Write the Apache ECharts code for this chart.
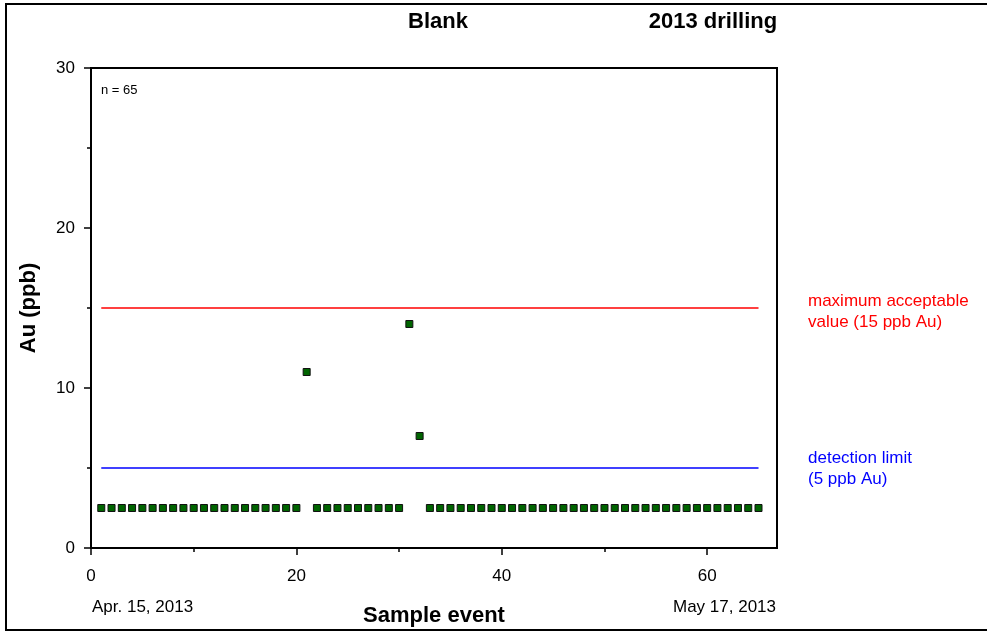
<!DOCTYPE html>
<html><head><meta charset="utf-8">
<script src="https://cdn.jsdelivr.net/npm/echarts@6/dist/echarts.min.js"></script>
<style>html,body{margin:0;padding:0;background:#fff}#c{width:987px;height:633px}</style>
</head><body><div id="c"></div>
<script>
const sampleEvent = [1,2,3,4,5,6,7,8,9,10,11,12,13,14,15,16,17,18,19,20,21,22,23,24,25,26,27,28,29,30,31,32,33,34,35,36,37,38,39,40,41,42,43,44,45,46,47,48,49,50,51,52,53,54,55,56,57,58,59,60,61,62,63,64,65];
const auPpb = [2.5,2.5,2.5,2.5,2.5,2.5,2.5,2.5,2.5,2.5,2.5,2.5,2.5,2.5,2.5,2.5,2.5,2.5,2.5,2.5,
  11,2.5,2.5,2.5,2.5,2.5,2.5,2.5,2.5,2.5,14,7,
  2.5,2.5,2.5,2.5,2.5,2.5,2.5,2.5,2.5,2.5,2.5,2.5,2.5,2.5,2.5,2.5,2.5,2.5,2.5,2.5,2.5,2.5,2.5,2.5,2.5,2.5,2.5,2.5,2.5,2.5,2.5,2.5,2.5];
const xMajorTicks = [0,20,40,60];
const xMinorTicks = [10,30,50];
const yMajorTicks = [0,10,20,30];
const yMinorTicks = [5,15,25];
const limitRange = [1,65];
const maxAcceptable = 15;
const detectionLimit = 5;

const FONT = '"Liberation Sans", Arial, sans-serif';
const chart = echarts.init(document.getElementById('c'));
const pts = sampleEvent.map((x,i)=>[x, auPpb[i]]);
const xMin = 0, xMax = 66.8, yMin = 0, yMax = 30;

chart.setOption({
  animation:false,
  backgroundColor:'#fff',
  grid:{left:91, top:68, right:210, bottom:85, show:true, borderColor:'#000', borderWidth:2,
        backgroundColor:'transparent', containLabel:false, outerBoundsMode:'none'},
  xAxis:[{
    type:'value', min:xMin, max:xMax, position:'bottom',
    name:'Sample event', nameLocation:'middle', nameGap:57, nameMoveOverlap:false,
    nameTextStyle:{fontFamily:FONT, fontSize:22, fontWeight:'bold', color:'#000'},
    axisLine:{show:true, lineStyle:{color:'#000', width:2}},
    axisTick:{show:true, customValues:xMajorTicks, length:7, lineStyle:{color:'#000', width:1.5}},
    axisLabel:{customValues:xMajorTicks, margin:20, fontFamily:FONT, fontSize:17, color:'#000'},
    splitLine:{show:false}
  },{
    type:'value', min:xMin, max:xMax, position:'bottom',
    axisLine:{show:false},
    axisTick:{show:true, customValues:xMinorTicks, length:4, lineStyle:{color:'#000', width:1.5}},
    axisLabel:{show:false}, splitLine:{show:false}
  }],
  yAxis:[{
    type:'value', min:yMin, max:yMax, position:'left',
    name:'Au (ppb)', nameLocation:'middle', nameGap:51, nameRotate:90, nameMoveOverlap:false,
    nameTextStyle:{fontFamily:FONT, fontSize:22, fontWeight:'bold', color:'#000'},
    axisLine:{show:true, lineStyle:{color:'#000', width:2}},
    axisTick:{show:true, customValues:yMajorTicks, length:7, lineStyle:{color:'#000', width:1.5}},
    axisLabel:{customValues:yMajorTicks, margin:16, fontFamily:FONT, fontSize:17, color:'#000'},
    splitLine:{show:false}
  },{
    type:'value', min:yMin, max:yMax, position:'left',
    axisLine:{show:false},
    axisTick:{show:true, customValues:yMinorTicks, length:4, lineStyle:{color:'#000', width:1.5}},
    axisLabel:{show:false}, splitLine:{show:false}
  }],
  series:[
    {type:'line', data:limitRange.map(x=>[x,maxAcceptable]), symbol:'none', silent:true,
     lineStyle:{color:'#ff0000', width:1.5}, z:1},
    {type:'line', data:limitRange.map(x=>[x,detectionLimit]), symbol:'none', silent:true,
     lineStyle:{color:'#0000ff', width:1.5}, z:1},
    {type:'scatter', data:pts, symbol:'rect', symbolSize:[7,7],
     itemStyle:{color:'#006400', borderColor:'#111', borderWidth:1, opacity:1}, z:3}
  ],
  graphic:[
    {type:'rect', shape:{x:6, y:4, width:1000, height:626}, style:{fill:'none', stroke:'#000', lineWidth:2}, silent:true},
    {type:'text', x:438, y:22, style:{text:'Blank', fontFamily:FONT, fontSize:22, fontWeight:'bold', fill:'#000', align:'center', verticalAlign:'middle'}},
    {type:'text', x:713, y:22, style:{text:'2013 drilling', fontFamily:FONT, fontSize:22, fontWeight:'bold', fill:'#000', align:'center', verticalAlign:'middle'}},
    {type:'text', x:101, y:90, style:{text:'n = 65', fontFamily:FONT, fontSize:13, fill:'#000', align:'left', verticalAlign:'middle'}},
    {type:'text', x:92, y:607, style:{text:'Apr. 15, 2013', fontFamily:FONT, fontSize:17, fill:'#000', align:'left', verticalAlign:'middle'}},
    {type:'text', x:776, y:607, style:{text:'May 17, 2013', fontFamily:FONT, fontSize:17, fill:'#000', align:'right', verticalAlign:'middle'}},
    {type:'text', x:808, y:301, style:{text:'maximum acceptable', fontFamily:FONT, fontSize:17, fill:'#ff0000', align:'left', verticalAlign:'middle'}},
    {type:'text', x:808, y:322, style:{text:'value (15 ppb Au)', fontFamily:FONT, fontSize:17, fill:'#ff0000', align:'left', verticalAlign:'middle'}},
    {type:'text', x:808, y:458, style:{text:'detection limit', fontFamily:FONT, fontSize:17, fill:'#0000ff', align:'left', verticalAlign:'middle'}},
    {type:'text', x:808, y:479, style:{text:'(5 ppb Au)', fontFamily:FONT, fontSize:17, fill:'#0000ff', align:'left', verticalAlign:'middle'}}
  ]
});
</script></body></html>
